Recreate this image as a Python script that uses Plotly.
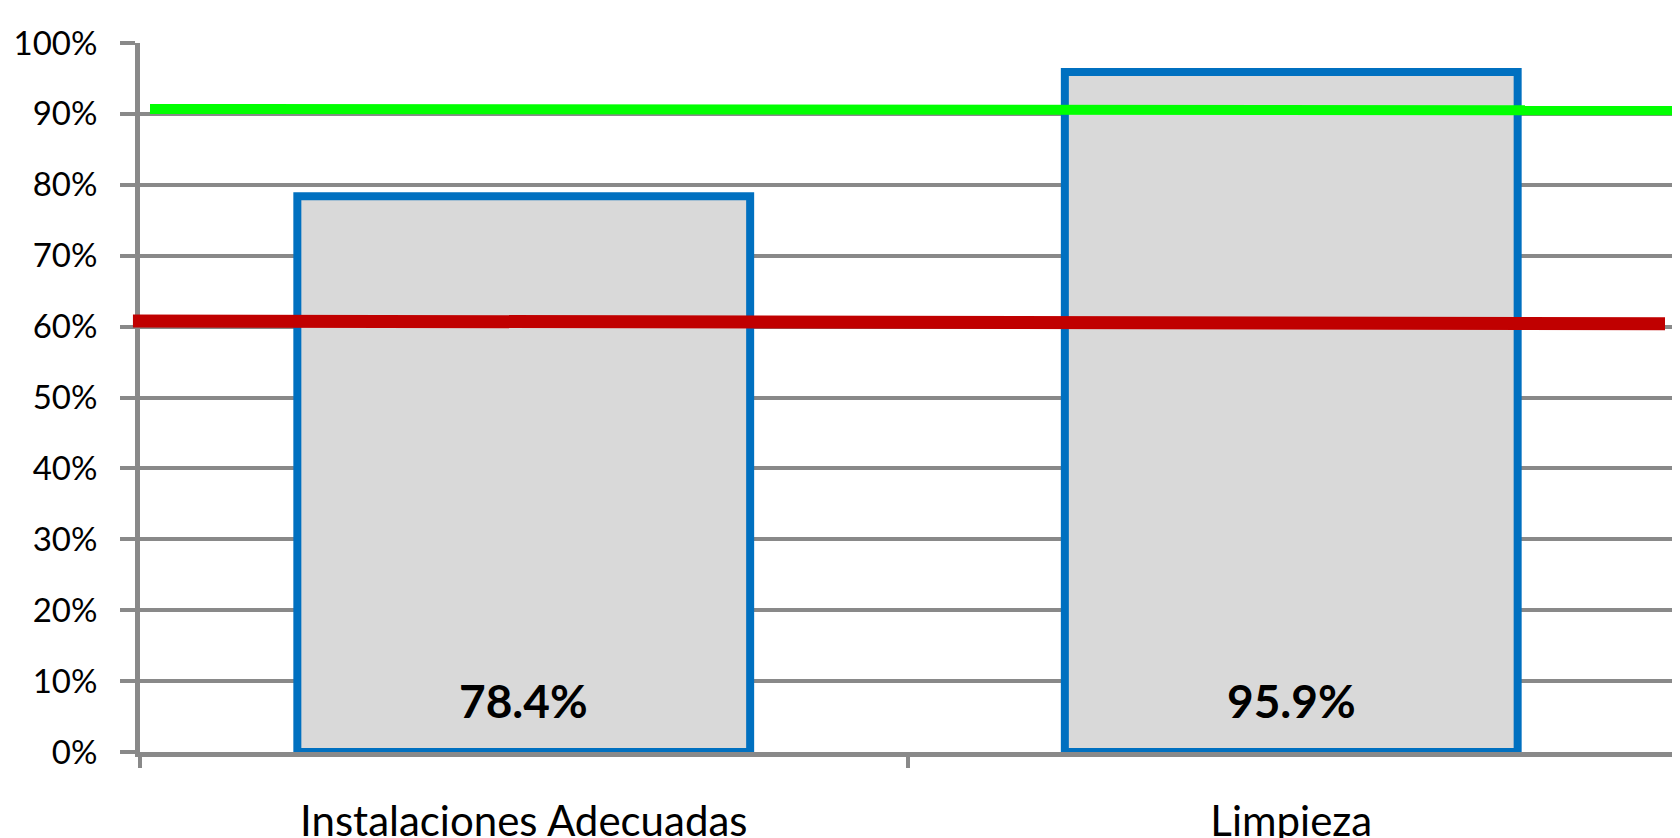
import plotly.graph_objects as go

categories = ["Instalaciones Adecuadas", "Limpieza"]
values = [0.784, 0.959]
labels = ["78.4%", "95.9%"]
y_ticks = [0, 0.1, 0.2, 0.3, 0.4, 0.5, 0.6, 0.7, 0.8, 0.9, 1.0]
y_tick_text = ["0%", "10%", "20%", "30%", "40%", "50%", "60%", "70%", "80%", "90%", "100%"]
green_ref = [0.907, 0.905]
red_ref = [0.608, 0.604]

GRID = "#898989"

fig = go.Figure()
fig.add_trace(go.Bar(
    x=categories, y=values, width=0.59,
    marker=dict(color="#D9D9D9", line=dict(color="#0070C0", width=8)),
    showlegend=False, hoverinfo="skip",
))

for c, lab in zip(categories, labels):
    fig.add_annotation(x=c, y=0, text="<b>%s</b>" % lab, showarrow=False,
                       yanchor="bottom", yshift=22,
                       font=dict(family="Lato", size=46, color="#000000"))

fig.add_shape(type="line", xref="paper", yref="y", x0=0.0065, x1=1.004,
              y0=green_ref[0], y1=green_ref[1], line=dict(color="#00FF00", width=10))
fig.add_shape(type="line", xref="paper", yref="y", x0=-0.0046, x1=0.9935,
              y0=red_ref[0], y1=red_ref[1], line=dict(color="#C00000", width=13))

fig.update_layout(
    width=1672, height=830,
    margin=dict(l=132, r=5, t=35, b=86, autoexpand=False),
    paper_bgcolor="#FFFFFF", plot_bgcolor="#FFFFFF",
    bargap=0.41,
    font=dict(family="Lato", color="#000000"),
)
fig.update_yaxes(
    range=[0, 1], tickvals=y_ticks, ticktext=y_tick_text,
    showgrid=True, gridcolor=GRID, gridwidth=4,
    showline=True, linecolor=GRID, linewidth=5,
    ticks="outside", ticklen=15, tickwidth=4, tickcolor=GRID,
    ticklabelstandoff=16, automargin=False,
    tickfont=dict(family="Lato", size=33, color="#000000"),
    zeroline=False,
)
fig.update_xaxes(
    showline=True, linecolor=GRID, linewidth=5,
    ticks="outside", tickson="boundaries", ticklen=11, tickwidth=4, tickcolor=GRID,
    ticklabelstandoff=29, automargin=False,
    tickfont=dict(family="Lato", size=42, color="#000000"),
    showgrid=False,
)

fig.write_html("out.html")
